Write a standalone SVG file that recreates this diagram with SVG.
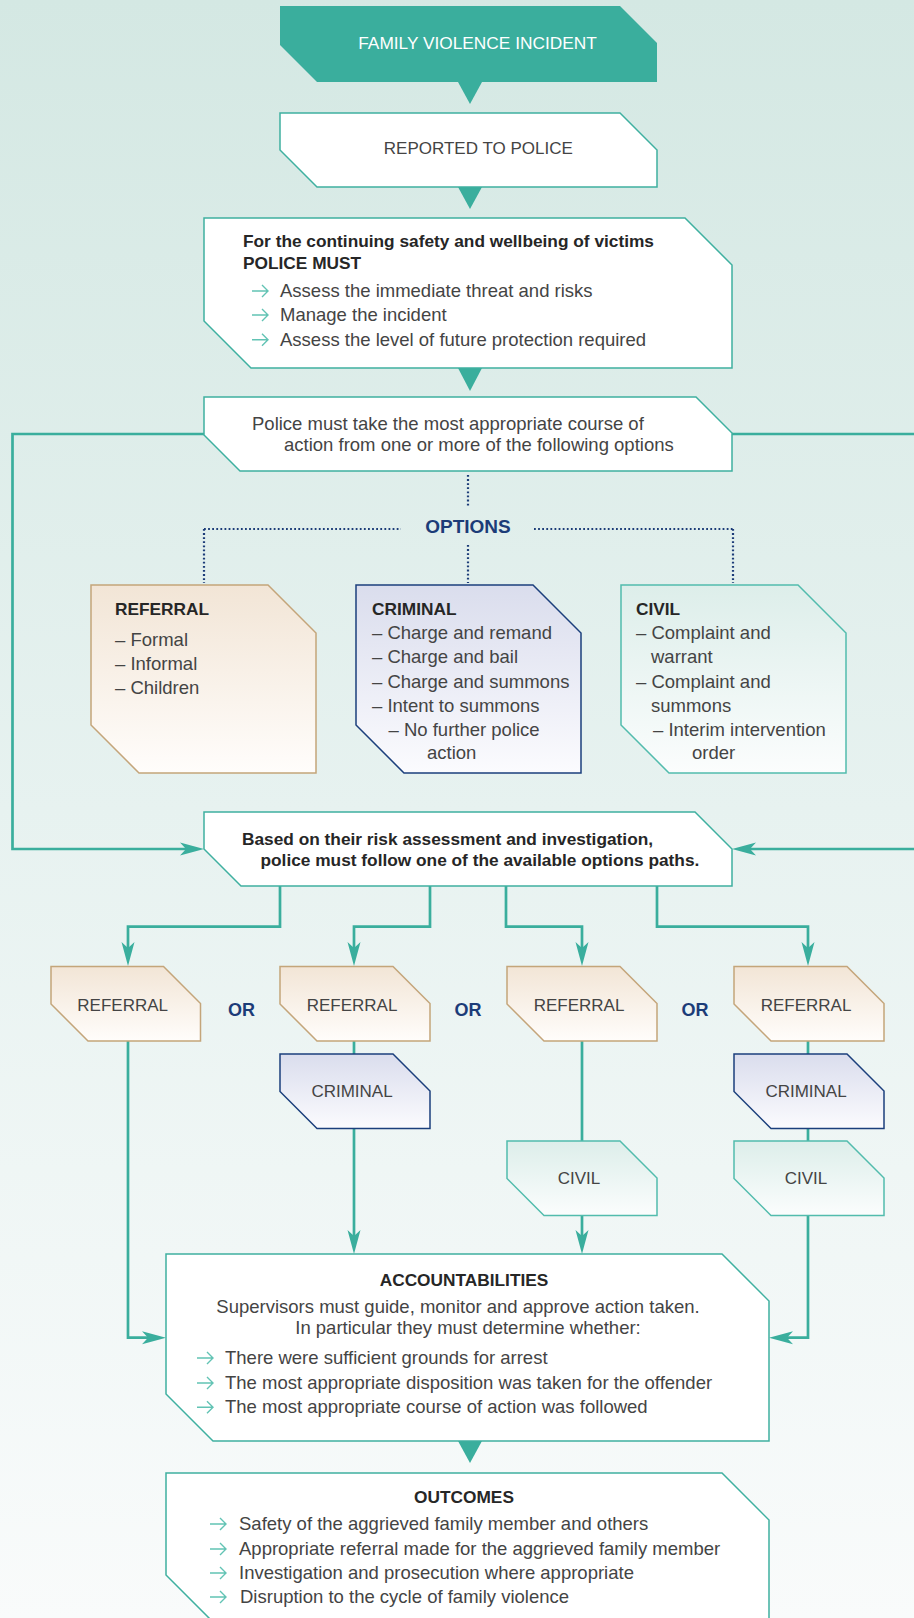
<svg xmlns="http://www.w3.org/2000/svg" width="914" height="1618" viewBox="0 0 914 1618">
<defs>
<linearGradient id="bg" x1="0" y1="0" x2="0" y2="1">
<stop offset="0" stop-color="#d4e8e3"/>
<stop offset="0.5" stop-color="#e7f2f0"/>
<stop offset="1" stop-color="#f9fbfb"/>
</linearGradient>
<linearGradient id="gRef" x1="0" y1="0" x2="0" y2="1">
<stop offset="0" stop-color="#f2e5d6"/>
<stop offset="1" stop-color="#fffdfb"/>
</linearGradient>
<linearGradient id="gCri" x1="0" y1="0" x2="0" y2="1">
<stop offset="0" stop-color="#dadded"/>
<stop offset="1" stop-color="#fbfbfe"/>
</linearGradient>
<linearGradient id="gCiv" x1="0" y1="0" x2="0" y2="1">
<stop offset="0" stop-color="#ddeeea"/>
<stop offset="1" stop-color="#fbfdfd"/>
</linearGradient>
<marker id="ah" markerUnits="userSpaceOnUse" viewBox="-16 -8 28 16" markerWidth="28" markerHeight="16" refX="0" refY="0" orient="auto">
<path d="M10,0 L-14,-6.5 L-8,0 L-14,6.5 Z" fill="#3aae9d"/>
</marker>
<path id="bul" d="M0,0 H16 M10,-6 L16,0 L10,6" fill="none" stroke="#62c3b4" stroke-width="1.4"/>
</defs>
<style>
.t{font-family:"Liberation Sans",Arial,sans-serif;}
.body{font-size:18.5px;fill:#444;}
.bold{font-size:17.3px;font-weight:bold;fill:#262626;}
.cap{font-size:17px;fill:#444;}
.nav{font-weight:bold;fill:#1c3c78;}
.wb{fill:#fff;stroke:#3fb0a0;stroke-width:1.5;}
.ref{fill:url(#gRef);stroke:#c4a57a;stroke-width:1.5;}
.cri{fill:url(#gCri);stroke:#1b3f7c;stroke-width:1.5;}
.civ{fill:url(#gCiv);stroke:#52bcad;stroke-width:1.5;}
.tri{fill:#3aae9d;}
.con{fill:none;stroke:#3aae9d;stroke-width:2.7;}
.dot{fill:none;stroke:#1c3c78;stroke-width:2.2;stroke-dasharray:1.8 2.3;}
</style>
<rect x="0" y="0" width="914" height="1618" fill="url(#bg)"/>

<g id="connectors">
<polygon class="tri" points="458,82 482,82 470,104"/>
<polygon class="tri" points="458,187 482,187 470,209"/>
<polygon class="tri" points="458,368 482,368 470,391"/>
<polygon class="tri" points="458,1441 482,1441 470,1463"/>
<path class="con" d="M204,434 H12.5 V849 H194" marker-end="url(#ah)"/>
<path class="con" d="M732,434 H925 V849 H742" marker-end="url(#ah)"/>
<path class="dot" d="M468,475 V506"/>
<path class="dot" d="M204,529 H401 M534,529 H733 M204,529 V583 M733,529 V583 M468,545 V583"/>
<path class="con" d="M280,886 V926.7 H128 V956" marker-end="url(#ah)"/>
<path class="con" d="M430,886 V926.7 H354 V956" marker-end="url(#ah)"/>
<path class="con" d="M506,886 V926.7 H582 V956" marker-end="url(#ah)"/>
<path class="con" d="M657,886 V926.7 H808 V956" marker-end="url(#ah)"/>
<path class="con" d="M128,1041 V1337.7 H156" marker-end="url(#ah)"/>
<path class="con" d="M354,1041 V1054"/>
<path class="con" d="M354,1128.5 V1244" marker-end="url(#ah)"/>
<path class="con" d="M582,1041 V1141"/>
<path class="con" d="M582,1215.5 V1244" marker-end="url(#ah)"/>
<path class="con" d="M808,1041 V1054 M808,1128.5 V1141"/>
<path class="con" d="M808,1215.5 V1337.7 H779" marker-end="url(#ah)"/>
</g>

<g id="n-incident">
<polygon points="280,6 620,6 657,43 657,82 317,82 280,45" fill="#3aae9d"/>
<text class="t" x="477.5" y="48.5" text-anchor="middle" font-size="17.3px" fill="#fff">FAMILY VIOLENCE INCIDENT</text>
</g>

<g id="n-reported">
<polygon class="wb" points="280,113 620,113 657,150 657,187 317,187 280,150"/>
<text class="t cap" x="478.3" y="154" text-anchor="middle" font-size="16.8px">REPORTED TO POLICE</text>
</g>

<g id="n-police-must">
<polygon class="wb" points="204,218 685,218 732,265 732,368 251,368 204,321"/>
<text class="t bold" x="243" y="247">For the continuing safety and wellbeing of victims</text>
<text class="t bold" x="243" y="268.5">POLICE MUST</text>
<use href="#bul" x="252" y="291"/>
<use href="#bul" x="252" y="315"/>
<use href="#bul" x="252" y="339.7"/>
<text class="t body" x="280" y="297">Assess the immediate threat and risks</text>
<text class="t body" x="280" y="321">Manage the incident</text>
<text class="t body" x="280" y="345.7">Assess the level of future protection required</text>
</g>

<g id="n-course">
<polygon class="wb" points="204,397 696,397 732,433 732,471 240,471 204,435"/>
<text class="t body" x="252" y="430">Police must take the most appropriate course of</text>
<text class="t body" x="284" y="451">action from one or more of the following options</text>
</g>

<g id="n-options">
<text class="t nav" x="468" y="533" text-anchor="middle" font-size="19px">OPTIONS</text>
</g>

<g id="n-opt-referral">
<polygon class="ref" points="91,585 268,585 316,633 316,773 139,773 91,725"/>
<text class="t bold" x="115" y="615" font-size="17px">REFERRAL</text>
<text class="t body" x="115" y="645.7" font-size="18.4px">– Formal</text>
<text class="t body" x="115" y="670" font-size="18.4px">– Informal</text>
<text class="t body" x="115" y="694" font-size="18.4px">– Children</text>
</g>

<g id="n-opt-criminal">
<polygon class="cri" points="356,585 533,585 581,633 581,773 404,773 356,725"/>
<text class="t bold" x="372" y="615" font-size="17px">CRIMINAL</text>
<text class="t body" x="372" y="639" font-size="18.4px">– Charge and remand</text>
<text class="t body" x="372" y="663" font-size="18.4px">– Charge and bail</text>
<text class="t body" x="372" y="687.7" font-size="18.4px">– Charge and summons</text>
<text class="t body" x="372" y="711.7" font-size="18.4px">– Intent to summons</text>
<text class="t body" x="388.5" y="735.7" font-size="18.4px">– No further police</text>
<text class="t body" x="427" y="759" font-size="18.4px">action</text>
</g>

<g id="n-opt-civil">
<polygon class="civ" points="621,585 798,585 846,633 846,773 669,773 621,725"/>
<text class="t bold" x="636" y="615" font-size="17px">CIVIL</text>
<text class="t body" x="636" y="639" font-size="18.4px">– Complaint and</text>
<text class="t body" x="651" y="663" font-size="18.4px">warrant</text>
<text class="t body" x="636" y="687.7" font-size="18.4px">– Complaint and</text>
<text class="t body" x="651" y="711.7" font-size="18.4px">summons</text>
<text class="t body" x="653" y="735.7" font-size="18.4px">– Interim intervention</text>
<text class="t body" x="692" y="759" font-size="18.4px">order</text>
</g>

<g id="n-based">
<polygon class="wb" points="204,812 695,812 732,849 732,886 241,886 204,849"/>
<text class="t bold" x="242" y="845">Based on their risk assessment and investigation,</text>
<text class="t bold" x="260.5" y="866">police must follow one of the available options paths.</text>
</g>

<g id="n-path1-referral">
<polygon class="ref" points="51,966.5 163.5,966.5 200.5,1003.5 200.5,1041 88,1041 51,1004"/>
<text class="t cap" x="122.7" y="1010.5" text-anchor="middle">REFERRAL</text>
</g>
<g id="n-or1"><text class="t nav" x="241.5" y="1015.5" text-anchor="middle" font-size="18px">OR</text></g>
<g id="n-path2-referral">
<polygon class="ref" points="280,966.5 393,966.5 430,1003.5 430,1041 317,1041 280,1004"/>
<text class="t cap" x="352" y="1010.5" text-anchor="middle">REFERRAL</text>
</g>
<g id="n-path2-criminal">
<polygon class="cri" points="280,1054 393,1054 430,1091 430,1128.5 317,1128.5 280,1091.5"/>
<text class="t cap" x="352" y="1097" text-anchor="middle">CRIMINAL</text>
</g>
<g id="n-or2"><text class="t nav" x="468" y="1015.5" text-anchor="middle" font-size="18px">OR</text></g>
<g id="n-path3-referral">
<polygon class="ref" points="507,966.5 620,966.5 657,1003.5 657,1041 544,1041 507,1004"/>
<text class="t cap" x="579" y="1010.5" text-anchor="middle">REFERRAL</text>
</g>
<g id="n-path3-civil">
<polygon class="civ" points="507,1141 620,1141 657,1178 657,1215.5 544,1215.5 507,1178.5"/>
<text class="t cap" x="579" y="1184" text-anchor="middle">CIVIL</text>
</g>
<g id="n-or3"><text class="t nav" x="695" y="1015.5" text-anchor="middle" font-size="18px">OR</text></g>
<g id="n-path4-referral">
<polygon class="ref" points="734,966.5 847,966.5 884,1003.5 884,1041 771,1041 734,1004"/>
<text class="t cap" x="806" y="1010.5" text-anchor="middle">REFERRAL</text>
</g>
<g id="n-path4-criminal">
<polygon class="cri" points="734,1054 847,1054 884,1091 884,1128.5 771,1128.5 734,1091.5"/>
<text class="t cap" x="806" y="1097" text-anchor="middle">CRIMINAL</text>
</g>
<g id="n-path4-civil">
<polygon class="civ" points="734,1141 847,1141 884,1178 884,1215.5 771,1215.5 734,1178.5"/>
<text class="t cap" x="806" y="1184" text-anchor="middle">CIVIL</text>
</g>

<g id="n-accountabilities">
<polygon class="wb" points="166,1254 722,1254 769,1301 769,1441 213,1441 166,1394"/>
<text class="t bold" x="464" y="1285.7" text-anchor="middle" font-size="17px">ACCOUNTABILITIES</text>
<text class="t body" x="458" y="1312.7" text-anchor="middle">Supervisors must guide, monitor and approve action taken.</text>
<text class="t body" x="468" y="1333.5" text-anchor="middle">In particular they must determine whether:</text>
<use href="#bul" x="197" y="1358"/>
<use href="#bul" x="197" y="1383"/>
<use href="#bul" x="197" y="1407.3"/>
<text class="t body" x="225" y="1364">There were sufficient grounds for arrest</text>
<text class="t body" x="225" y="1389">The most appropriate disposition was taken for the offender</text>
<text class="t body" x="225" y="1413.3">The most appropriate course of action was followed</text>
</g>

<g id="n-outcomes">
<polygon class="wb" points="166,1473 722,1473 769,1520 769,1622 213,1622 166,1575"/>
<text class="t bold" x="464" y="1503" text-anchor="middle" font-size="16.5px">OUTCOMES</text>
<use href="#bul" x="210" y="1524"/>
<use href="#bul" x="210" y="1549"/>
<use href="#bul" x="210" y="1573"/>
<use href="#bul" x="210" y="1597"/>
<text class="t body" x="239" y="1530">Safety of the aggrieved family member and others</text>
<text class="t body" x="239" y="1555">Appropriate referral made for the aggrieved family member</text>
<text class="t body" x="239" y="1579">Investigation and prosecution where appropriate</text>
<text class="t body" x="240" y="1603">Disruption to the cycle of family violence</text>
</g>
</svg>
